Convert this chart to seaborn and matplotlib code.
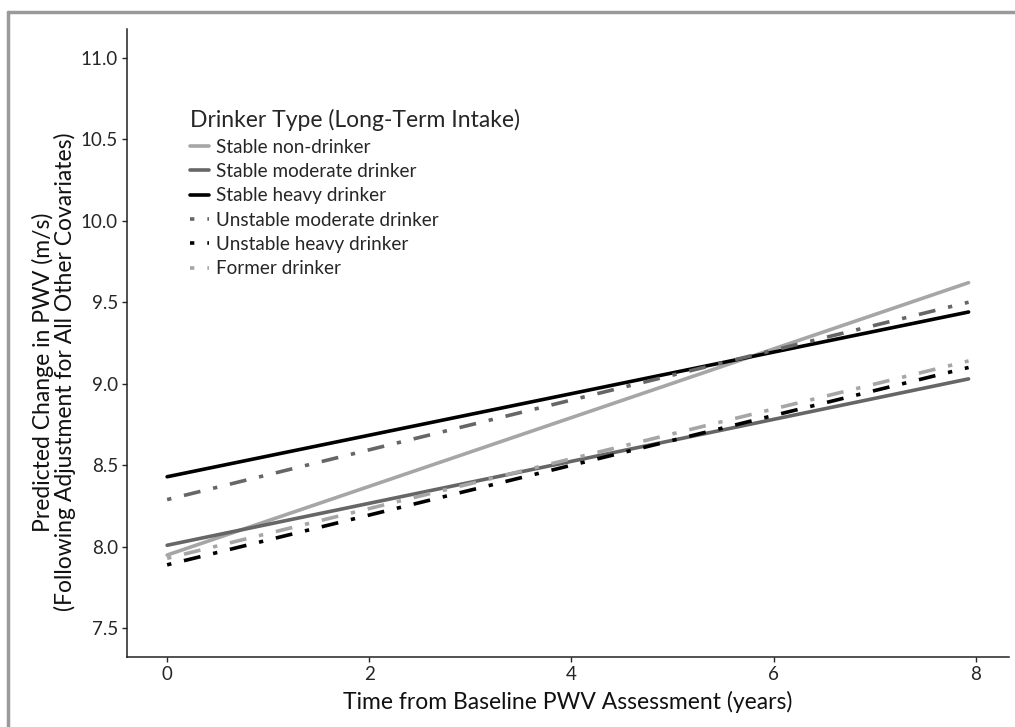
import numpy as np
import pandas as pd
import matplotlib
matplotlib.use("Agg")
import matplotlib.pyplot as plt
from matplotlib.lines import Line2D
import seaborn as sns

# Values
groups = ["Stable non-drinker", "Stable moderate drinker", "Stable heavy drinker",
          "Unstable moderate drinker", "Unstable heavy drinker", "Former drinker"]
years = [0.0, 7.93]
pwv_start = [7.95, 8.01, 8.43, 8.29, 7.89, 7.93]
pwv_end = [9.62, 9.03, 9.44, 9.50, 9.10, 9.14]
x_ticks = [0, 2, 4, 6, 8]
y_ticks = [7.5, 8.0, 8.5, 9.0, 9.5, 10.0, 10.5, 11.0]

light, dark, black = "#a6a6a6", "#666666", "#000000"
palette = dict(zip(groups, [light, dark, black, dark, black, light]))
dotdash = (1.2, 3.6, 4.7, 3.6)
dashes = dict(zip(groups, ["", "", "", dotdash, dotdash, dotdash]))

rows = []
for g, a, b in zip(groups, pwv_start, pwv_end):
    rows.append({"group": g, "time": years[0], "pwv": a})
    rows.append({"group": g, "time": years[1], "pwv": b})
df = pd.DataFrame(rows)

sns.set_theme(style="ticks")
plt.rcParams["font.family"] = ["Lato", "DejaVu Sans"]

fig = plt.figure(figsize=(10.15, 7.27), dpi=100)
ax = fig.add_axes([127 / 1015, 1 - 657 / 727, (1009 - 127) / 1015, (657 - 29) / 727])

sns.lineplot(data=df, x="time", y="pwv", hue="group", style="group",
             palette=palette, dashes=dashes, hue_order=groups, style_order=groups,
             lw=2.6, ax=ax)

ax.set_xlim(-0.397, 8.33)
ax.set_ylim(7.325, 11.175)
ax.set_xticks(x_ticks)
ax.set_yticks(y_ticks)
ax.set_yticklabels([f"{v:.1f}" for v in y_ticks])
ax.tick_params(labelsize=13.5, colors="#262626", length=3.5, width=1, pad=3)
for s in ["top", "right"]:
    ax.spines[s].set_visible(False)
for s in ["left", "bottom"]:
    ax.spines[s].set_color("#222222")
    ax.spines[s].set_linewidth(1.1)

ax.set_xlabel("Time from Baseline PWV Assessment (years)", fontsize=16.5, color="#111111", labelpad=6)
ax.set_ylabel("Predicted Change in PWV (m/s)\n(Following Adjustment for All Other Covariates)",
              fontsize=16.5, color="#111111", linespacing=1.0)
ax.yaxis.set_label_coords(-0.058, 0.454)

sns.move_legend(ax, "upper left", bbox_to_anchor=(0.063, 0.884), frameon=False,
                title="Drinker Type (Long-Term Intake)", title_fontsize=16.5, fontsize=13.6,
                handlelength=1.0, handletextpad=0.35, labelspacing=0.385, alignment="left",
                borderaxespad=0)

# grey frame on top and left edge of the figure
fig.add_artist(Line2D([8 / 1015, 1.0], [1 - 12 / 727] * 2, color="#9a9a9a", lw=2.5))
fig.add_artist(Line2D([8 / 1015] * 2, [0.0, 1 - 12 / 727], color="#9a9a9a", lw=2.5))

fig.savefig("out.png", dpi=100)
